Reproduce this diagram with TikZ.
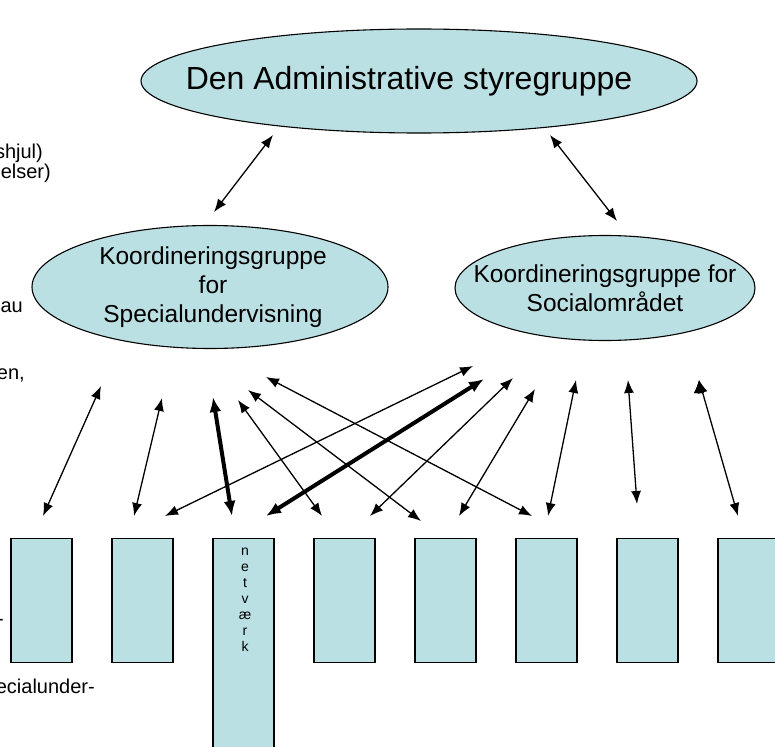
\documentclass[tikz,border=0pt]{standalone}
\usepackage{fontspec}
\setmainfont{Liberation Sans}
\usetikzlibrary{shapes.geometric,arrows.meta,positioning}
\definecolor{groupfill}{RGB}{187,224,227}

\begin{document}
\begin{tikzpicture}[x=1pt,y=-1pt]

        % Setup the styles
        \tikzset{group style/.style={ellipse,
                                     draw,
                                     line width=1.1pt,
                                     fill=groupfill,
                                     inner sep=0pt},
                 unit style/.style={rectangle,
                                    draw,
                                    line width=1.2pt,
                                    fill=groupfill,
                                    minimum width=61pt,
                                    inner sep=0pt,
                                    anchor=north},
                 group text/.style={align=center,
                                    font=\fontsize{24.5}{29}\selectfont},
                 side text/.style={anchor=east,
                                   inner sep=0pt,
                                   font=\fontsize{20}{22}\selectfont},
                 heavy/.style={line width=4pt,
                               {Latex[length=15pt,width=12pt]}-{Latex[length=15pt,width=12pt]}}}

        \useasboundingbox (0,0) rectangle (775,746);
        \clip (0,0) rectangle (775,746);

        % Text left over from the page beside it
        \node[side text] at (43,153)   (side1) {shjul)};
        \node[side text] at (51,173)   (side2) {elser)};
        \node[side text] at (23,307)   (side3) {au};
        \node[side text] at (25,375)   (side4) {en,};
        \node[side text] at (4,622)    (side5) {-};
        \node[side text] at (95,686)   (side6) {ecialunder-};

        % Draw the groups
        \node[group style, minimum width=556pt, minimum height=104pt] at (419,81) (adm) {};
        \node[font=\fontsize{32}{38}\selectfont] at (409,81) (adm text) {Den Administrative styregruppe};
        \node[group style, minimum width=356pt, minimum height=123pt] at (210,287) (spec) {};
        \node[group text] at (213,287) (spec text) {Koordineringsgruppe\\for\\Specialundervisning};
        \node[group style, minimum width=300pt, minimum height=105pt] at (605,288) (soc) {};
        \node[group text] at (soc) (soc text) {Koordineringsgruppe for\\Socialområdet};

        % Draw the units
        \foreach \i/\h in {1/124, 2/124, 3/240, 4/124, 5/124, 6/124, 7/124, 8/124}
            \node[unit style, minimum height=\h pt] at ({41.5+101*(\i-1)},538) (u\i) {};
        \node[align=center, font=\fontsize{14}{16}\selectfont] at (245,600) (net) {n\\e\\t\\v\\æ\\r\\k};

        % Ends of the arrows
        \coordinate (t1) at (273,135);  \coordinate (b1) at (214,212);
        \coordinate (t2) at (550,135);  \coordinate (b2) at (617,221);
        \coordinate (s1) at (101,386);  \coordinate (e1) at (43,516);
        \coordinate (s2) at (162,398);  \coordinate (e2) at (134,516);
        \coordinate (s3) at (213,397);  \coordinate (e3) at (232,516);
        \coordinate (s4) at (238,400);  \coordinate (e4) at (322,516);
        \coordinate (s5) at (248,390);  \coordinate (e5) at (421,521);
        \coordinate (s6) at (266,377);  \coordinate (e6) at (532,516);
        \coordinate (s7) at (473,366);  \coordinate (e7) at (165,516);
        \coordinate (s8) at (484,379);  \coordinate (e8) at (266,516);
        \coordinate (s9) at (513,378);  \coordinate (e9) at (370,516);
        \coordinate (s10) at (535,389); \coordinate (e10) at (459,516);
        \coordinate (s11) at (576,380); \coordinate (e11) at (548,516);
        \coordinate (s12) at (628,380); \coordinate (e12) at (637,504);
        \coordinate (s13) at (699,380); \coordinate (e13) at (738,516);

        % Connect the groups and units with arrows
        \draw[line width=1.3pt,
              {Latex[length=13pt,width=10pt]}-{Latex[length=13pt,width=10pt]}]
            (t1)  edge (b1)
            (t2)  edge (b2)
            (s1)  edge (e1)
            (s2)  edge (e2)
            (s3)  edge[heavy] (e3)
            (s4)  edge (e4)
            (s5)  edge (e5)
            (s6)  edge (e6)
            (s7)  edge (e7)
            (s8)  edge[heavy] (e8)
            (s9)  edge (e9)
            (s10) edge (e10)
            (s11) edge (e11)
            (s12) edge (e12)
            (s13) edge (e13)
            ;
\end{tikzpicture}
\end{document}
